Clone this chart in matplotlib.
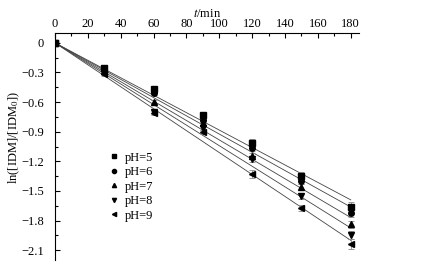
import numpy as np
import matplotlib.pyplot as plt

plt.rcParams['font.family'] = ['Liberation Serif', 'DejaVu Serif']
plt.rcParams['mathtext.fontset'] = 'stix'

t = np.array([0, 30, 60, 90, 120, 150, 180])
labels = ['pH=5', 'pH=6', 'pH=7', 'pH=8', 'pH=9']
markers = ['s', 'o', '^', 'v', '<']
vals = [
    [0, -0.25, -0.47, -0.73, -1.01, -1.35, -1.66],
    [0, -0.27, -0.51, -0.78, -1.07, -1.40, -1.72],
    [0, -0.28, -0.60, -0.81, -1.15, -1.46, -1.84],
    [0, -0.30, -0.70, -0.86, -1.18, -1.55, -1.95],
    [0, -0.32, -0.71, -0.90, -1.33, -1.67, -2.04],
]
errs = [
    [0, 0.02, 0.02, 0.03, 0.04, 0.04, 0.05],
    [0, 0.02, 0.02, 0.02, 0.03, 0.03, 0.04],
    [0, 0.02, 0.02, 0.02, 0.03, 0.03, 0.04],
    [0, 0.02, 0.02, 0.02, 0.03, 0.03, 0.04],
    [0, 0.02, 0.02, 0.02, 0.04, 0.03, 0.05],
]

fig = plt.figure(figsize=(4.24, 2.68), dpi=100)
ax = fig.add_axes([55/424, 8/268, 304/424, 227/268])

tt = np.array([0, 180])
for y, e, m, lab in zip(vals, errs, markers, labels):
    y = np.array(y)
    k = np.sum(t*y) / np.sum(t*t)
    ax.plot(tt, k*tt, color='#444444', lw=0.6, zorder=1)
    ax.errorbar(t, y, yerr=e, fmt='none', ecolor='#888888', elinewidth=0.6,
                capsize=2, capthick=0.6, zorder=2)
    ax.plot(t, y, m, color='black', ms=4, label=lab, zorder=3)

ax.set_xlim(0, 185)
ax.set_ylim(-2.2, 0.1)
ax.spines['right'].set_visible(False)
ax.spines['bottom'].set_visible(False)
ax.xaxis.tick_top()
ax.xaxis.set_label_position('top')
ax.set_xticks(np.arange(0, 181, 20))
ax.set_xticks(np.arange(10, 181, 20), minor=True)
ax.set_yticks(np.arange(0, -2.2, -0.3))
ax.set_yticks(np.arange(-0.15, -2.2, -0.3), minor=True)
ax.set_yticklabels(['0', '\u22120.3', '\u22120.6', '\u22120.9', '\u22121.2', '\u22121.5', '\u22121.8', '\u22122.1'])
ax.tick_params(which='both', direction='in', labelsize=9, width=0.8)
ax.tick_params(which='major', length=3.5)
ax.tick_params(which='minor', length=2)
ax.tick_params(axis='x', pad=2)
ax.tick_params(axis='y', pad=8)
ax.set_xlabel('$t$/min', fontsize=9, labelpad=1)
ax.set_ylabel('ln([IDM]/[IDM$_0$])', fontsize=9)
ax.yaxis.set_label_coords(-0.109, 0.54)

ax.legend(loc='upper left', bbox_to_anchor=(0.16, 0.505), frameon=False, fontsize=9,
          handlelength=0.6, handletextpad=0.6, labelspacing=0.2, borderpad=0,
          markerscale=0.75)

fig.savefig('out.png', dpi=100)
